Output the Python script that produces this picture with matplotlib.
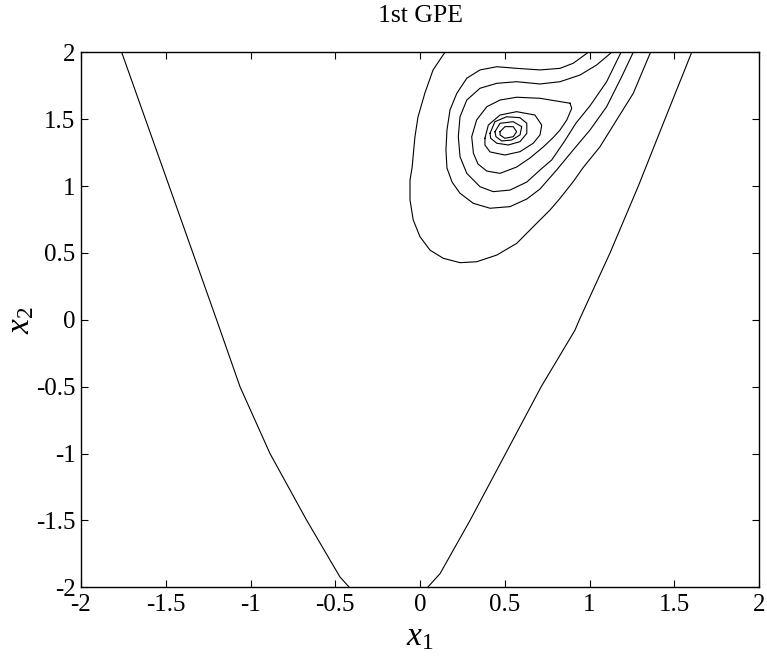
import matplotlib
matplotlib.use("Agg")
import matplotlib.pyplot as plt

plt.rcParams['font.family'] = ['Liberation Serif', 'DejaVu Serif']
plt.rcParams['mathtext.fontset'] = 'custom'
plt.rcParams['mathtext.rm'] = 'Liberation Serif'
plt.rcParams['mathtext.it'] = 'Liberation Serif:italic'
plt.rcParams['axes.unicode_minus'] = False

# contour lines (x1, x2)
v_left_x = [-1.76, -1.62, -1.48, -1.34, -1.20, -1.062, -0.885, -0.668, -0.472, -0.417]
v_left_y = [2.0, 1.5, 1.0, 0.5, 0.0, -0.5, -1.0, -1.5, -1.923, -2.0]

v_right_x = [0.045, 0.118, 0.295, 0.505, 0.715, 0.914, 0.94, 1.121, 1.288, 1.445, 1.603]
v_right_y = [-2.0, -1.898, -1.5, -1.0, -0.5, -0.078, 0.0, 0.5, 1.0, 1.5, 2.0]

c1_x = [0.147, 0.077, 0.029, -0.012, -0.030, -0.047, -0.059, -0.059, -0.040, 0.0, 0.059, 0.137,
        0.236, 0.334, 0.453, 0.571, 0.668, 0.767, 0.826, 0.904, 0.963, 1.062, 1.160, 1.258, 1.36]
c1_y = [2.0, 1.868, 1.696, 1.516, 1.367, 1.135, 1.045, 0.896, 0.746, 0.621, 0.521, 0.460,
        0.427, 0.434, 0.484, 0.572, 0.696, 0.821, 0.908, 1.033, 1.139, 1.294, 1.494, 1.693, 2.0]

c2_x = [0.993, 0.904, 0.826, 0.708, 0.570, 0.453, 0.354, 0.276, 0.217, 0.177, 0.159, 0.153, 0.159,
        0.189, 0.236, 0.314, 0.413, 0.531, 0.630, 0.708, 0.806, 0.904, 1.003, 1.101, 1.190, 1.258]
c2_y = [2.0, 1.918, 1.880, 1.868, 1.880, 1.892, 1.868, 1.806, 1.693, 1.569, 1.419, 1.270, 1.135,
        1.030, 0.946, 0.871, 0.834, 0.846, 0.903, 0.978, 1.120, 1.270, 1.419, 1.593, 1.818, 2.0]

c3_x = [1.131, 1.042, 0.944, 0.826, 0.708, 0.570, 0.453, 0.354, 0.276, 0.236, 0.226, 0.236, 0.276,
        0.354, 0.432, 0.531, 0.630, 0.708, 0.777, 0.85, 0.92, 1.003, 1.101, 1.186]
c3_y = [2.0, 1.905, 1.830, 1.780, 1.763, 1.780, 1.768, 1.731, 1.643, 1.518, 1.369, 1.219, 1.095,
        0.995, 0.958, 0.970, 1.030, 1.120, 1.195, 1.33, 1.47, 1.60, 1.78, 2.0]

c4_x = [0.885, 0.895, 0.866, 0.826, 0.786, 0.727, 0.649, 0.570, 0.472, 0.394, 0.342, 0.315, 0.305,
        0.334, 0.394, 0.472, 0.570, 0.708, 0.885]
c4_y = [1.619, 1.581, 1.494, 1.419, 1.363, 1.292, 1.210, 1.142, 1.095, 1.112, 1.165, 1.245, 1.369,
        1.494, 1.593, 1.643, 1.664, 1.656, 1.619]

c5_x = [0.383, 0.403, 0.472, 0.570, 0.678, 0.718, 0.708, 0.668, 0.590, 0.501, 0.413, 0.383, 0.383]
c5_y = [1.357, 1.456, 1.531, 1.556, 1.531, 1.456, 1.382, 1.320, 1.257, 1.232, 1.255, 1.307, 1.357]

c6_x = [0.413, 0.442, 0.511, 0.590, 0.630, 0.630, 0.590, 0.521, 0.453, 0.417, 0.413]
c6_y = [1.394, 1.481, 1.518, 1.511, 1.469, 1.394, 1.332, 1.307, 1.320, 1.357, 1.394]

c7_x = [0.442, 0.472, 0.550, 0.600, 0.590, 0.541, 0.482, 0.448, 0.442]
c7_y = [1.406, 1.469, 1.481, 1.444, 1.382, 1.344, 1.337, 1.369, 1.406]

c8_x = [0.472, 0.501, 0.550, 0.570, 0.550, 0.501, 0.472, 0.472]
c8_y = [1.406, 1.444, 1.444, 1.406, 1.369, 1.357, 1.382, 1.406]

lines = [(v_left_x, v_left_y), (v_right_x, v_right_y), (c1_x, c1_y), (c2_x, c2_y),
         (c3_x, c3_y), (c4_x, c4_y), (c5_x, c5_y), (c6_x, c6_y), (c7_x, c7_y), (c8_x, c8_y)]

ticks = [-2, -1.5, -1, -0.5, 0, 0.5, 1, 1.5, 2]
tick_labels = ['-2', '-1.5', '-1', '-0.5', '0', '0.5', '1', '1.5', '2']

fig = plt.figure(figsize=(7.67, 6.56), dpi=100)
ax = fig.add_axes([0.1056, 0.1047, 0.8840, 0.8156])

for xs, ys in lines:
    ax.plot(xs, ys, 'k-', lw=0.8)

ax.set_xlim(-2, 2)
ax.set_ylim(-2, 2)
ax.set_xticks(ticks)
ax.set_yticks(ticks)
ax.set_xticklabels(tick_labels)
ax.set_yticklabels(tick_labels)
ax.tick_params(direction='in', length=5, width=0.8, top=True, right=True, labelsize=18)
ax.tick_params(axis='x', pad=5)
ax.tick_params(axis='y', pad=4)
for s in ax.spines.values():
    s.set_linewidth(1.0)

ax.set_title('1st GPE', fontsize=18.5, pad=22)
ax.set_xlabel(r'$x_1$', fontsize=24, labelpad=4)
ax.set_ylabel(r'$x_2$', fontsize=24, labelpad=0)

fig.savefig('out.png', dpi=100)
